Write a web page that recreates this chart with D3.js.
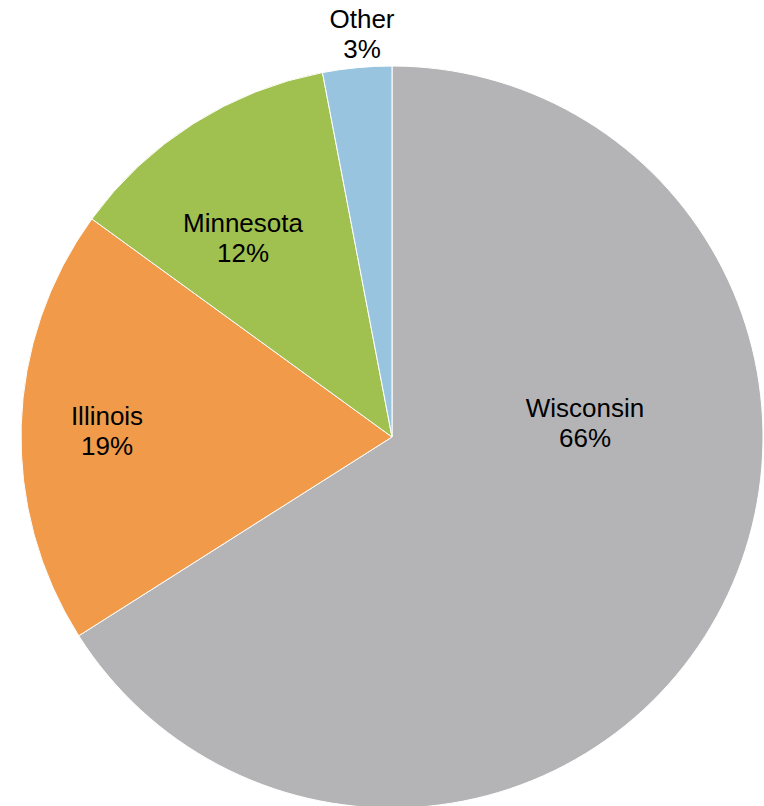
<!DOCTYPE html>
<html>
<head>
<meta charset="utf-8">
<script src="https://cdn.jsdelivr.net/npm/d3@7/dist/d3.min.js"></script>
<style>
  html, body { margin: 0; padding: 0; background: #fff; }
  svg { display: block; }
</style>
</head>
<body>
<svg id="chart" width="764" height="806"></svg>
<script>
const categories = ["Wisconsin", "Illinois", "Minnesota", "Other"];
const values = [66, 19, 12, 3];
const colors = ["#B4B4B6", "#F09A4A", "#A0C050", "#98C4E0"];
// label anchor offsets relative to pie centre (layout only)
const labelOffsets = [[193, -15], [-285, -7], [-149, -200], [-30, -404]];

const W = 764, H = 806;
const cx = 392, cy = 437, R = 371;
const svg = d3.select("#chart");
const g = svg.append("g").attr("transform", `translate(${cx},${cy})`);

const data = categories.map((c, i) => ({ name: c, value: values[i], color: colors[i], off: labelOffsets[i] }));
const pie = d3.pie().value(d => d.value).sort(null).startAngle(0).endAngle(2 * Math.PI);
const arc = d3.arc().innerRadius(0).outerRadius(R);

g.selectAll("path.slice")
  .data(pie(data))
  .join("path")
  .attr("class", "slice")
  .attr("d", arc)
  .attr("fill", d => d.data.color)
  .attr("stroke", "#ffffff")
  .attr("stroke-width", 1);

const total = d3.sum(values);
const fmt = v => Math.round(v / total * 100) + "%";

const labels = g.selectAll("text.lbl")
  .data(pie(data))
  .join("text")
  .attr("class", "lbl")
  .attr("text-anchor", "middle")
  .attr("font-family", "Liberation Sans, Arial, sans-serif")
  .attr("font-size", 26)
  .attr("fill", "#000")
  .attr("transform", d => `translate(${d.data.off[0]},${d.data.off[1]})`);
labels.append("tspan").attr("x", 0).attr("y", -5).text(d => d.data.name);
labels.append("tspan").attr("x", 0).attr("y", 25).text(d => fmt(d.data.value));
</script>
</body>
</html>
